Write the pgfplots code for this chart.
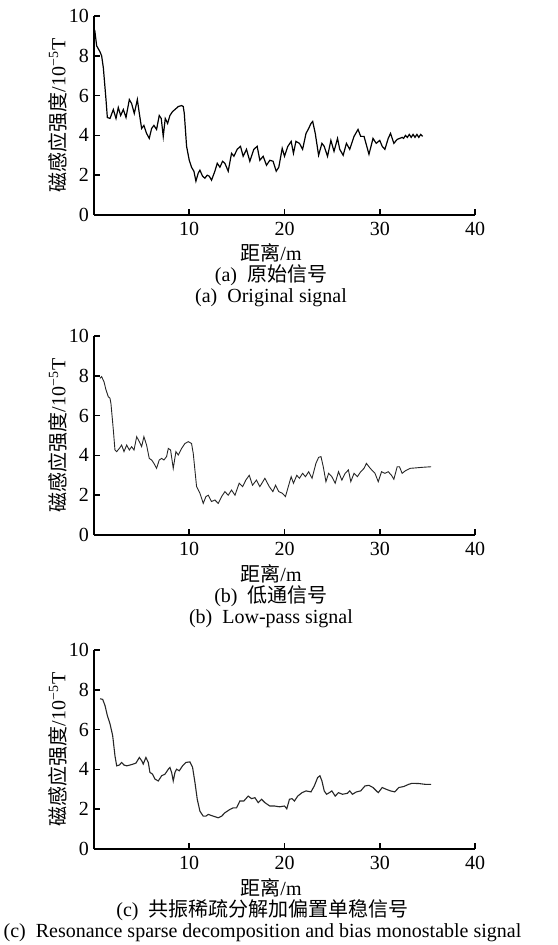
\documentclass[border=0pt]{standalone}
\usepackage{fontspec}
\setmainfont{Liberation Serif}
\newfontfamily\cjk{Noto Sans CJK SC}
\usepackage{pgfplots}
\pgfplotsset{compat=1.18}

\pgfplotsset{
  panel/.style={
    width=190.5pt, height=99.5pt, scale only axis,
    anchor=south west,
    xmin=0, xmax=40, ymin=0, ymax=10,
    axis lines*=left,
    axis line style={line width=0.8pt},
    xtick={10,20,30,40}, ytick={0,2,...,10},
    tick align=inside,
    major tick length=3pt,
    tick style={line width=0.8pt, black},
    /pgf/number format/assume math mode=true,
    ticklabel style={font=\fontsize{10}{11}\selectfont},
    yticklabel style={xshift=1pt},
    label style={font=\fontsize{10}{11}\selectfont},
    ylabel={{\cjk 磁感应强度}/10\textsuperscript{−5}T},
    ylabel style={yshift=-6pt},
    clip=false,
  },
}
\tikzset{captext/.style={anchor=base, inner sep=0pt, font=\fontsize{10}{11}\selectfont}}

\begin{document}
\begin{tikzpicture}
\useasboundingbox (-47pt,107.5pt) rectangle (231.5pt,-365pt);

% (a) original signal
\begin{axis}[panel, at={(0,0)}]
\addplot[black, line width=0.6pt] coordinates {
(0,9.1) (0.1,9.2) (0.28,8.5) (0.63,8.2) (0.8,8.0) (0.98,7.4) (1.26,5.8) (1.4,4.9)
(1.68,4.85) (2.03,5.3) (2.31,4.85) (2.55,5.4) (2.8,5.0) (3.08,5.3) (3.36,4.9)
(3.71,5.8) (3.95,5.6) (4.23,5.1) (4.55,5.8) (4.76,5.1) (5.0,4.35) (5.24,4.5)
(5.52,4.1) (5.8,3.85) (6.05,4.35) (6.29,4.5) (6.57,4.3) (6.85,5.0) (7.06,4.85)
(7.27,3.95) (7.48,4.85) (7.73,4.6) (7.97,5.0) (8.25,5.2) (8.5,5.3) (8.85,5.45)
(9.2,5.5) (9.37,5.45) (9.48,5.1) (9.72,3.45) (10.0,2.75) (10.24,2.4) (10.49,2.2)
(10.7,1.7) (10.94,2.1) (11.12,2.25) (11.4,1.95) (11.64,1.85) (11.89,2.0) (12.1,1.95)
(12.34,1.75) (12.69,2.2) (12.94,2.6) (13.22,2.4) (13.5,2.7) (13.74,2.6) (14.09,2.2)
(14.44,3.1) (14.69,2.95) (15.03,3.3) (15.38,3.45) (15.66,2.95) (16.01,3.3) (16.36,2.7)
(16.78,3.3) (17.13,3.45) (17.41,2.75) (17.76,2.95) (18.11,2.5) (18.46,2.75) (18.8,2.7)
(19.13,2.2) (19.4,2.4) (19.76,3.35) (20.0,2.95) (20.35,3.45) (20.7,3.7) (20.94,3.1)
(21.2,3.7) (21.57,3.6) (21.9,3.3) (22.26,4.1) (22.54,4.35) (22.78,4.6) (22.96,4.7)
(23.23,4.1) (23.58,3.0) (23.93,3.6) (24.17,3.45) (24.52,2.95) (24.87,3.75) (25.2,3.2)
(25.57,3.85) (25.8,3.3) (26.16,3.0) (26.5,3.6) (26.85,3.3) (27.3,3.95) (27.72,4.3)
(28.0,3.95) (28.35,3.95) (28.87,3.05) (29.29,3.85) (29.63,3.6) (30.0,3.75) (30.26,3.45)
(30.54,3.3) (30.89,3.85) (31.13,4.1) (31.48,3.6) (31.83,3.8) (32.1,3.85) (32.35,3.9)
(32.5,3.85) (32.7,4.0) (32.9,3.9) (33.1,4.05) (33.3,3.9) (33.5,4.05) (33.7,3.9)
(33.9,4.05) (34.1,3.9) (34.3,4.05) (34.5,3.95)
};
\node[captext] at (rel axis cs:0.5,0) [xshift=-6.75pt, yshift=-23pt] {{\cjk 距离}/m};
\node[captext] at (rel axis cs:0.5,0) [xshift=-6.75pt, yshift=-33.5pt] {(a)\ \ {\cjk 原始信号}};
\node[captext] at (rel axis cs:0.5,0) [xshift=-6.75pt, yshift=-44pt] {(a)\ \ Original signal};
\end{axis}

% (b) low-pass signal
\begin{axis}[panel, at={(0,-160pt)}]
\addplot[black!85, line width=0.45pt] coordinates {
(0.63,7.87) (0.8,7.96) (1.05,7.7) (1.26,7.29) (1.5,6.95) (1.68,6.87) (1.78,6.6)
(2.03,5.28) (2.2,4.27) (2.38,4.19) (2.66,4.35) (2.9,4.52) (3.15,4.19) (3.43,4.52)
(3.71,4.27) (3.95,4.44) (4.2,4.27) (4.48,4.94) (4.76,4.69) (5.0,4.44) (5.24,4.94)
(5.52,4.52) (5.8,3.85) (6.05,3.77) (6.29,3.6) (6.57,3.35) (6.85,3.77) (7.1,3.85)
(7.34,3.77) (7.62,3.94) (7.8,4.35) (8.04,4.27) (8.32,3.35) (8.6,4.19) (8.85,4.02)
(9.2,4.35) (9.55,4.6) (9.9,4.69) (10.24,4.6) (10.42,4.1) (10.77,2.43) (11.12,2.1)
(11.47,1.59) (11.75,1.93) (12.0,2.0) (12.34,1.68) (12.69,1.76) (13.04,1.59) (13.4,1.93)
(13.74,2.18) (14.09,2.0) (14.44,2.26) (14.8,2.0) (15.24,2.6) (15.6,2.43) (15.94,2.76)
(16.3,3.0) (16.64,2.5) (17.06,2.76) (17.41,2.43) (17.94,2.85) (18.4,2.43) (18.78,2.18)
(19.06,2.5) (19.4,2.18) (19.76,2.1) (20.1,1.93) (20.35,2.35) (20.7,2.93) (20.94,2.6)
(21.29,3.0) (21.57,2.85) (21.9,3.1) (22.2,2.93) (22.54,3.18) (22.89,2.85) (23.3,3.6)
(23.58,3.9) (23.83,3.94) (24.07,3.43) (24.35,2.68) (24.63,3.1) (24.97,2.93) (25.32,2.6)
(25.67,3.18) (26.02,2.76) (26.37,3.1) (26.71,3.27) (26.96,2.68) (27.3,3.1) (27.65,2.93)
(28.0,3.18) (28.35,3.35) (28.6,3.6) (28.87,3.43) (29.15,3.27) (29.5,3.1) (29.84,2.68)
(30.19,3.18) (30.54,3.1) (30.89,3.18) (31.23,3.0) (31.48,2.8) (31.83,3.43) (32.07,3.43)
(32.35,3.1) (32.7,3.23) (33.2,3.35) (33.74,3.37) (34.43,3.4) (35.4,3.43)
};
\node[captext] at (rel axis cs:0.5,0) [xshift=-6.75pt, yshift=-23pt] {{\cjk 距离}/m};
\node[captext] at (rel axis cs:0.5,0) [xshift=-6.75pt, yshift=-33.5pt] {(b)\ \ {\cjk 低通信号}};
\node[captext] at (rel axis cs:0.5,0) [xshift=-6.75pt, yshift=-44pt] {(b)\ \ Low-pass signal};
\end{axis}

% (c) resonance sparse decomposition + bias monostable signal
\begin{axis}[panel, at={(0,-317pt)}]
\addplot[black!85, line width=0.55pt] coordinates {
(0.63,7.55) (0.91,7.52) (1.15,7.22) (1.4,6.71) (1.68,6.29) (1.96,5.7) (2.2,4.69)
(2.38,4.18) (2.66,4.22) (2.9,4.35) (3.15,4.22) (3.43,4.18) (3.78,4.22) (4.13,4.27)
(4.41,4.32) (4.76,4.6) (5.0,4.44) (5.17,4.27) (5.45,4.6) (5.7,4.35) (5.87,3.85)
(6.15,3.76) (6.4,3.51) (6.75,3.42) (7.1,3.68) (7.45,3.76) (7.8,4.01) (7.97,4.1)
(8.15,3.85) (8.32,3.42) (8.5,3.85) (8.67,4.01) (8.95,3.93) (9.3,4.18) (9.65,4.35)
(10.07,4.38) (10.35,4.1) (10.6,3.34) (10.84,2.5) (11.12,1.9) (11.47,1.65) (11.75,1.65)
(12.0,1.74) (12.52,1.65) (13.04,1.57) (13.4,1.65) (13.74,1.82) (14.27,1.99) (14.62,2.07)
(14.97,2.07) (15.31,2.41) (15.73,2.41) (16.19,2.66) (16.54,2.53) (16.89,2.58) (17.24,2.33)
(17.59,2.5) (17.94,2.33) (18.46,2.16) (18.96,2.16) (19.48,2.12) (20.0,2.16) (20.24,2.02)
(20.52,2.5) (20.8,2.53) (21.04,2.41) (21.39,2.66) (21.84,2.83) (22.26,2.92) (22.78,2.87)
(23.13,3.17) (23.48,3.59) (23.72,3.68) (23.93,3.42) (24.17,2.92) (24.42,2.75) (24.7,2.83)
(24.97,2.92) (25.32,2.66) (25.67,2.83) (26.09,2.75) (26.61,2.8) (26.85,2.92) (27.13,2.75)
(27.55,2.87) (28.0,2.92) (28.45,3.17) (28.87,3.2) (29.29,3.09) (29.84,2.83) (30.26,3.09)
(30.68,3.0) (31.13,2.92) (31.58,2.87) (32.0,3.09) (32.52,3.14) (33.04,3.25) (33.39,3.3)
(34.09,3.29) (34.78,3.25) (35.4,3.25)
};
\node[captext] at (rel axis cs:0.5,0) [xshift=-6.75pt, yshift=-23pt] {{\cjk 距离}/m};
\node[captext] at (rel axis cs:0.5,0) [xshift=-11pt, yshift=-33.5pt] {(c)\ \ {\cjk 共振稀疏分解加偏置单稳信号}};
\node[captext] at (rel axis cs:0.5,0) [xshift=-11pt, yshift=-44pt] {(c)\ \ Resonance sparse decomposition and bias monostable signal};
\end{axis}
\end{tikzpicture}
\end{document}
